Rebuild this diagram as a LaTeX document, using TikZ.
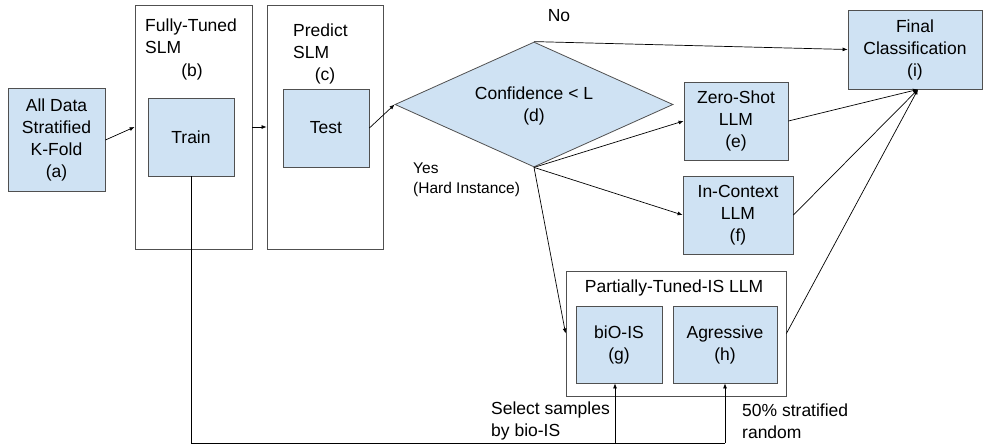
\documentclass[tikz,border=0pt]{standalone}
\usepackage{fontspec}
\setmainfont{Liberation Sans}
\usetikzlibrary{shapes.geometric,arrows.meta,calc}
\definecolor{boxblue}{HTML}{CFE2F3}
\definecolor{edge}{HTML}{505050}
\begin{document}
\begin{tikzpicture}[x=1pt,y=-1pt,
  txt/.style={font=\fontsize{17.5}{22}\selectfont, align=center, inner sep=0pt},
  small/.style={font=\fontsize{15.5}{20}\selectfont, align=left, inner sep=0pt},
  bluebox/.style={draw=edge, line width=0.8pt, fill=boxblue, inner sep=0pt, txt},
  outerbox/.style={draw=edge, line width=0.8pt, fill=white, inner sep=0pt},
  arr/.style={draw=black, line width=0.7pt, -{Latex[length=5pt,width=4pt]}},
  ln/.style={draw=black, line width=0.7pt}]
\useasboundingbox (0,0) rectangle (983,445);
% outer boxes
\node[outerbox, minimum width=117pt, minimum height=244pt] (b) at (193.5,127) {};
\node[outerbox, minimum width=116pt, minimum height=244pt] (c) at (325,127) {};
\node[outerbox, minimum width=220pt, minimum height=125pt] (p) at (676,333.5) {};
% blue boxes
\node[bluebox, minimum width=97pt, minimum height=103pt] (a) at (56.5,140) {All Data\\Stratified\\K-Fold\\(a)};
\node[bluebox, minimum width=86pt, minimum height=78pt] (train) at (191,137) {Train};
\node[bluebox, minimum width=86pt, minimum height=78pt] (test) at (326,128) {Test};
\node[bluebox, minimum width=134pt, minimum height=79pt] (i) at (915,49.5) {Final\\Classification\\(i)};
\node[bluebox, minimum width=104pt, minimum height=78pt] (e) at (736,121) {Zero-Shot\\LLM\\(e)};
\node[bluebox, minimum width=110pt, minimum height=78pt] (f) at (738,215) {In-Context\\LLM\\(f)};
\node[bluebox, minimum width=86pt, minimum height=77pt] (g) at (619,344.5) {biO-IS\\(g)};
\node[bluebox, minimum width=104pt, minimum height=77pt] (h) at (725,344.5) {Agressive\\(h)};
\node[diamond, draw=edge, line width=0.8pt, fill=boxblue, inner sep=0pt, minimum width=278pt, minimum height=125pt] (d) at (534,104.5) {};
\node[txt] (dt) at (534,106) {Confidence < L\\(d)};
% labels
\node[txt, align=left, anchor=west] (bl) at (145,36) {Fully-Tuned\\SLM};
\node[txt] (bl2) at (192,72) {(b)};
\node[txt, align=left, anchor=west] (cl) at (293,41) {Predict\\SLM};
\node[txt] (cl2) at (325,76) {(c)};
\node[txt] (pl) at (674,288) {Partially-Tuned-IS LLM};
\node[txt] (no) at (559,16) {No};
\node[small, anchor=west] (yes) at (413,180) {Yes\\(Hard Instance)};
\node[txt, align=left, anchor=west] (sel) at (491,421) {Select samples\\by bio-IS};
\node[txt, align=left, anchor=west] (rnd) at (742,421) {50\% stratified\\random};
% connectors
\draw[arr] (a.east) -- (b.west);
\draw[arr] (b.east) -- (c.west);
\draw[arr] (test.east) -- (d.west);
\draw[arr] (d.north) -- (i.west);
\draw[arr] (d.south) -- (e.west);
\draw[arr] (d.south) -- (f.west);
\draw[arr] (d.south) -- (p.west);
\coordinate (iin) at ($(i.south)+(3,0)$);
\draw[arr] (e.east) -- (iin);
\draw[arr] (f.east) -- (iin);
\draw[arr] (p.east) -- (iin);
\coordinate (q2) at (725,443);
\coordinate (gin) at ($(g.south)+(-4,0)$);
\draw[ln] (train.south) |- (q2);
\draw[arr] (q2) -- (h.south);
\draw[arr] (gin |- q2) -- (gin);
\end{tikzpicture}
\end{document}
